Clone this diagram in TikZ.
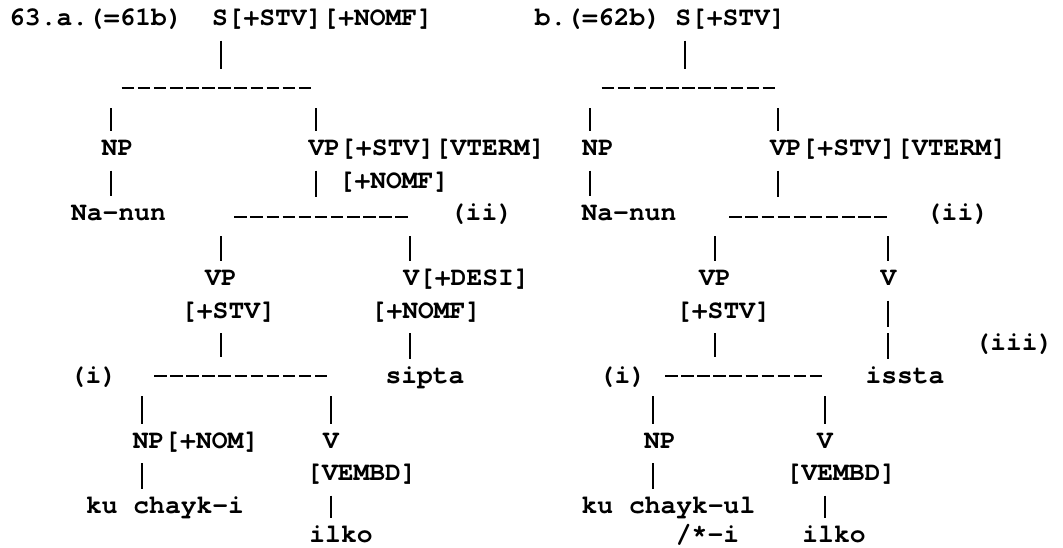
\documentclass[tikz,border=0pt]{standalone}
\usepackage{fontspec}
\newfontfamily\typewriter{texgyrecursor}[Extension=.otf, UprightFont=*-regular, BoldFont=*-bold]
\tikzset{
	lbl/.style={font=\typewriter\bfseries\fontsize{26.3pt}{26.3pt}\selectfont,
			anchor=base, inner sep=0pt, text height=17.5pt, text depth=8.5pt},
	hyphenrow/.style={lbl, minimum width=#1, anchor=base west},
	hyph/.style={line width=2.2pt, dash pattern=on 12.5pt off 3.6pt},
	bar/.style={line width=2.6pt, shorten <=6.5pt, shorten >=6.5pt},
	twobars/.style={bar, dash pattern=on 26pt off 6.5pt}
}

\begin{document}
\begin{tikzpicture}[x=1pt, y=-1pt]
	\useasboundingbox (0,0) rectangle (1063,547);

	% Tree (a)
	\node[lbl] (a-title) at (96,25.5) {63.a.(=61b)};
	\node[lbl] (a-s) at (322.5,25.5) {S[+STV][+NOMF]};
	\node[hyphenrow=190pt] (a-h1) at (121.7,92.8) {};
	\node[lbl] (a-np) at (117.5,155.5) {NP};
	\node[lbl] (a-vp) at (427,155.5) {VP[+STV][VTERM]};
	\node[lbl] (a-nomf) at (394,188) {[+NOMF]};
	\node[lbl] (a-nanun) at (118.5,220.5) {Na-nun};
	\node[hyphenrow=174.7pt] (a-h2) at (234.3,221.2) {};
	\node[lbl] (a-ii) at (481.5,220.5) {(ii)};
	\node[lbl] (a-vp2) at (221,285.5) {VP};
	\node[lbl] (a-desi) at (466.5,285.5) {V[+DESI]};
	\node[lbl] (a-stv) at (228.5,318) {[+STV]};
	\node[lbl] (a-nomf2) at (426,318) {[+NOMF]};
	\node[lbl] (a-i) at (93.5,383) {(i)};
	\node[hyphenrow=172.7pt] (a-h3) at (154,380.8) {};
	\node[lbl] (a-sipta) at (425,383) {sipta};
	\node[lbl] (a-np2) at (196,448) {NP[+NOM]};
	\node[lbl] (a-v) at (331,448) {V};
	\node[lbl] (a-vembd) at (361.5,480.5) {[VEMBD]};
	\node[lbl] (a-ku) at (165,513) {ku chayk-i};
	\node[lbl] (a-ilko) at (341,542) {ilko};

	% Tree (b)
	\node[lbl] (b-title) at (598,25.5) {b.(=62b)};
	\node[lbl] (b-s) at (730.5,25.5) {S[+STV]};
	\node[hyphenrow=173.3pt] (b-h1) at (601.7,92.8) {};
	\node[lbl] (b-np) at (598,155.5) {NP};
	\node[lbl] (b-vp) at (888.5,155.5) {VP[+STV][VTERM]};
	\node[lbl] (b-nanun) at (629,220.5) {Na-nun};
	\node[hyphenrow=157.7pt] (b-h2) at (729.3,221.2) {};
	\node[lbl] (b-ii) at (957.5,220.5) {(ii)};
	\node[lbl] (b-vp2) at (715,285.5) {VP};
	\node[lbl] (b-v) at (888.5,285.5) {V};
	\node[lbl] (b-stv) at (723.5,318) {[+STV]};
	\node[lbl] (b-iii) at (1014,350.5) {(iii)};
	\node[lbl] (b-i) at (622.5,383) {(i)};
	\node[hyphenrow=156.7pt] (b-h3) at (665,380.8) {};
	\node[lbl] (b-issta) at (905,383) {issta};
	\node[lbl] (b-np2) at (660,448) {NP};
	\node[lbl] (b-v2) at (825,448) {V};
	\node[lbl] (b-vembd) at (841,480.5) {[VEMBD]};
	\node[lbl] (b-ku) at (668.5,513) {ku chayk-ul};
	\node[lbl] (b-star) at (707.5,542) {/*-i};
	\node[lbl] (b-ilko) at (834,542) {ilko};

	% Branch lines
	\foreach \n in {a-h1,a-h2,a-h3,b-h1,b-h2,b-h3}
		\draw[hyph] (\n.west) -- (\n.east);

	% Bars of (a)
	\draw[bar] (a-s.south -| 221,0) -- (a-h1.north -| 221,0);
	\draw[bar] (a-h1.south -| 111,0) -- (a-np.north -| 111,0);
	\draw[bar] (a-h1.south -| 316,0) -- (a-vp.north -| 316,0);
	\draw[bar] (a-np.south -| 111,0) -- (a-nanun.north -| 111,0);
	\draw[bar] (a-vp.south -| 316,0) -- (a-h2.north -| 316,0);
	\draw[bar] (a-h2.south -| 221,0) -- (a-vp2.north -| 221,0);
	\draw[bar] (a-h2.south -| 410,0) -- (a-desi.north -| 410,0);
	\draw[bar] (a-stv.south -| 221,0) -- (a-h3.north -| 221,0);
	\draw[bar] (a-nomf2.south -| 410,0) -- (a-sipta.north -| 410,0);
	\draw[bar] (a-h3.south -| 142,0) -- (a-np2.north -| 142,0);
	\draw[bar] (a-h3.south -| 331,0) -- (a-v.north -| 331,0);
	\draw[bar] (a-np2.south -| 142,0) -- (a-ku.north -| 142,0);
	\draw[bar] (a-vembd.south -| 331,0) -- (a-ilko.north -| 331,0);

	% Bars of (b)
	\draw[bar] (b-s.south -| 685,0) -- (b-h1.north -| 685,0);
	\draw[bar] (b-h1.south -| 590,0) -- (b-np.north -| 590,0);
	\draw[bar] (b-h1.south -| 778,0) -- (b-vp.north -| 778,0);
	\draw[bar] (b-np.south -| 590,0) -- (b-nanun.north -| 590,0);
	\draw[bar] (b-vp.south -| 778,0) -- (b-h2.north -| 778,0);
	\draw[bar] (b-h2.south -| 715,0) -- (b-vp2.north -| 715,0);
	\draw[bar] (b-h2.south -| 888,0) -- (b-v.north -| 888,0);
	\draw[twobars] (b-v.south -| 888,0) -- (b-issta.north -| 888,0);
	\draw[bar] (b-stv.south -| 715,0) -- (b-h3.north -| 715,0);
	\draw[bar] (b-h3.south -| 653,0) -- (b-np2.north -| 653,0);
	\draw[bar] (b-h3.south -| 825,0) -- (b-v2.north -| 825,0);
	\draw[bar] (b-np2.south -| 653,0) -- (b-ku.north -| 653,0);
	\draw[bar] (b-vembd.south -| 825,0) -- (b-ilko.north -| 825,0);
\end{tikzpicture}
\end{document}
